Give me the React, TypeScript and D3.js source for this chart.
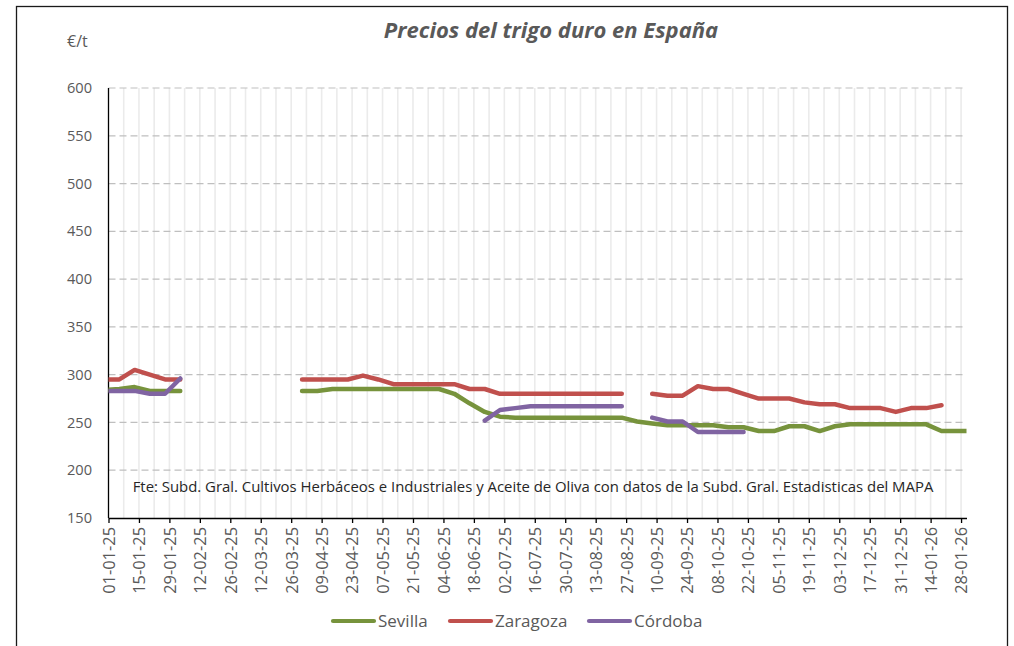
import { useEffect, useRef } from "react";
import * as d3 from "d3";

// weekly observations (Mondays), first one falls just before the axis start
const weeks = d3.timeMonday.range(new Date(2024, 11, 30), new Date(2026, 1, 3));

const sevilla = [
  284, 285, 287, 283, 283, 283,
  null, null, null, null, null, null, null,
  283, 283, 285, 285, 285, 285, 285, 285, 285, 285, 280, 270, 261, 256,
  255, 255, 255, 255, 255, 255, 255, 255,
  251, 249, 247, 247, 247, 247, 245, 245, 241, 241, 246, 246, 241, 246,
  248, 248, 248, 248, 248, 248, 241, 241, 241,
];

const zaragoza = [
  295, 295, 305, 300, 295, 295,
  null, null, null, null, null, null, null,
  295, 295, 295, 295, 299, 295, 290, 290, 290, 290, 290, 285, 285, 280,
  280, 280, 280, 280, 280, 280, 280, 280,
  null,
  280, 278, 278, 288, 285, 285, 280, 275, 275, 275, 271, 269, 269, 265,
  265, 265, 261, 265, 265, 268,
  null, null,
];

const cordoba = [
  283, 283, 283, 280, 280, 296,
  null, null, null, null, null, null, null, null, null, null,
  null, null, null, null, null, null, null, null, null,
  252, 263, 265, 267, 267, 267, 267, 267, 267, 267,
  null,
  255, 251, 251, 240, 240, 240, 240,
  null, null, null, null, null, null, null, null, null, null,
  null, null, null, null, null,
];

const seriesNames = ["Sevilla", "Zaragoza", "Córdoba"];
const seriesValues = [sevilla, zaragoza, cordoba];
const seriesColors = ["#77933C", "#C0504D", "#8064A2"];

const yTicks = [150, 200, 250, 300, 350, 400, 450, 500, 550, 600];

const title = "Precios del trigo duro en España";
const unitLabel = "€/t";
const sourceNote =
  "Fte: Subd. Gral. Cultivos Herbáceos e Industriales y Aceite de Oliva con datos de la Subd. Gral. Estadisticas del MAPA";

export default function App() {
  const width = 1014;
  const height = 646;
  const marginLeft = 108.5;
  const plotRight = 966.5;
  const marginTop = 88;
  const plotBottom = 518;
  const ref = useRef(null);

  useEffect(() => {
    ref.current.innerHTML = "";
    const font = "'Open Sans', sans-serif";
    const textColor = "#595959";
    const axisStart = new Date(2025, 0, 1);

    const xScale = d3
      .scaleTime()
      .domain([axisStart, new Date(2026, 0, 30, 12)])
      .range([marginLeft, plotRight]);

    const yScale = d3
      .scaleLinear()
      .domain([150, 600])
      .range([plotBottom, marginTop]);

    const svg = d3.select(ref.current);

    // chart border
    svg
      .append("rect")
      .attr("x", 16.5)
      .attr("y", 6.5)
      .attr("width", 991)
      .attr("height", 660)
      .attr("fill", "#fff")
      .attr("stroke", "#1a1a1a")
      .attr("stroke-width", 1.3);

    // weekly vertical gridlines (every 7 days from 01-01-25)
    const gridDays = d3.range(7, 393, 7).map((n) => d3.timeDay.offset(axisStart, n));
    svg
      .append("g")
      .selectAll("line")
      .data(gridDays)
      .join("line")
      .attr("x1", (d) => xScale(d))
      .attr("x2", (d) => xScale(d))
      .attr("y1", marginTop)
      .attr("y2", plotBottom)
      .attr("stroke", "#ebebeb")
      .attr("stroke-width", 1.6);

    // horizontal dashed gridlines
    svg
      .append("g")
      .selectAll("line")
      .data(yTicks.slice(1))
      .join("line")
      .attr("x1", marginLeft)
      .attr("x2", plotRight)
      .attr("y1", (d) => yScale(d))
      .attr("y2", (d) => yScale(d))
      .attr("stroke", "#bfbfbf")
      .attr("stroke-width", 1.2)
      .attr("stroke-dasharray", "7,4");

    // y labels
    svg
      .append("g")
      .selectAll("text")
      .data(yTicks)
      .join("text")
      .attr("x", 92)
      .attr("y", (d) => yScale(d))
      .attr("dy", "0.35em")
      .attr("text-anchor", "end")
      .attr("font-family", font)
      .attr("font-size", 14.6)
      .attr("fill", textColor)
      .text((d) => d);

    // x axis, a label every 14 days
    const labelDays = d3.range(0, 393, 14).map((n) => d3.timeDay.offset(axisStart, n));
    const fmt = d3.timeFormat("%d-%m-%y");
    svg
      .append("g")
      .attr("transform", `translate(0, ${plotBottom})`)
      .call(
        d3
          .axisBottom(xScale)
          .tickValues(labelDays)
          .tickSize(5)
          .tickSizeOuter(0)
          .tickFormat(fmt),
      )
      .call((g) => g.select(".domain").attr("stroke", "#000").attr("stroke-width", 1.3))
      .call((g) => g.selectAll(".tick line").attr("stroke", "#000").attr("stroke-width", 1.3))
      .call((g) =>
        g
          .selectAll(".tick text")
          .attr("transform", "rotate(-90)")
          .attr("text-anchor", "end")
          .attr("x", -9)
          .attr("y", 0)
          .attr("dy", "0.36em")
          .attr("font-family", font)
          .attr("font-size", 16.4)
          .attr("fill", textColor),
      );

    // y axis line
    svg
      .append("line")
      .attr("x1", marginLeft)
      .attr("x2", marginLeft)
      .attr("y1", marginTop)
      .attr("y2", plotBottom)
      .attr("stroke", "#000")
      .attr("stroke-width", 1.3);

    // series lines
    svg
      .append("clipPath")
      .attr("id", "plot-clip")
      .append("rect")
      .attr("x", marginLeft)
      .attr("y", marginTop - 10)
      .attr("width", plotRight - marginLeft)
      .attr("height", plotBottom - marginTop + 10);

    const line = d3
      .line()
      .defined((d) => d[1] != null)
      .x((d) => xScale(d[0]))
      .y((d) => yScale(d[1]));

    svg
      .append("g")
      .attr("clip-path", "url(#plot-clip)")
      .selectAll("path")
      .data(seriesValues)
      .join("path")
      .attr("d", (vals) => line(weeks.map((w, i) => [w, vals[i]])))
      .attr("fill", "none")
      .attr("stroke", (d, i) => seriesColors[i])
      .attr("stroke-width", 4.5)
      .attr("stroke-linejoin", "round")
      .attr("stroke-linecap", "round");

    // source note
    svg
      .append("text")
      .attr("x", 533)
      .attr("y", 487)
      .attr("dy", "0.35em")
      .attr("text-anchor", "middle")
      .attr("font-family", font)
      .attr("font-size", 14.9)
      .attr("fill", "#262626")
      .text(sourceNote);

    // title + unit
    svg
      .append("text")
      .attr("x", 551)
      .attr("y", 30)
      .attr("dy", "0.35em")
      .attr("text-anchor", "middle")
      .attr("font-family", font)
      .attr("font-size", 22)
      .attr("font-weight", "bold")
      .attr("font-style", "italic")
      .attr("fill", textColor)
      .text(title);

    svg
      .append("text")
      .attr("x", 67)
      .attr("y", 41)
      .attr("dy", "0.35em")
      .attr("font-family", font)
      .attr("font-size", 16)
      .attr("fill", textColor)
      .text(unitLabel);

    // legend
    const legendX = [333, 450, 589];
    const legend = svg
      .append("g")
      .selectAll("g")
      .data(seriesNames)
      .join("g")
      .attr("transform", (d, i) => `translate(${legendX[i]}, 621)`);
    legend
      .append("line")
      .attr("x1", 0)
      .attr("x2", 41)
      .attr("stroke", (d, i) => seriesColors[i])
      .attr("stroke-width", 4.2)
      .attr("stroke-linecap", "round");
    legend
      .append("text")
      .attr("x", 45)
      .attr("dy", "0.35em")
      .attr("font-family", font)
      .attr("font-size", 17)
      .attr("fill", textColor)
      .text((d) => d);
  }, []);

  return (
    <svg
      ref={ref}
      width={width}
      height={height}
      style={{ position: "absolute", left: 0, top: 0, background: "#fff" }}
    />
  );
}
